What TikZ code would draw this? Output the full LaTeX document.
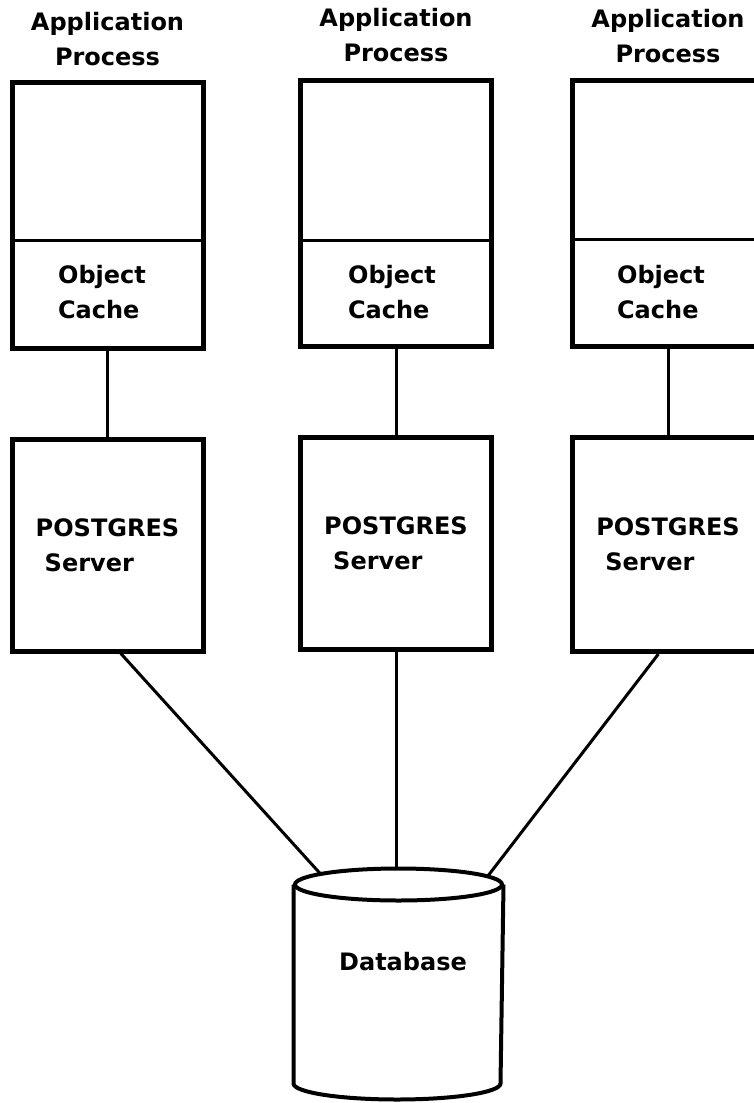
\documentclass[tikz,border=0pt]{standalone}
\usepackage{fontspec}
\setmainfont{DejaVu Sans}
\usetikzlibrary{positioning}
\tikzset{every picture/.style={line width=1.5pt}}

\begin{document}
\begin{tikzpicture}[x=0.5pt, y=-0.5pt, node distance=43pt,
    every node/.style={font=\bfseries\fontsize{12}{17.5}\selectfont},
    procbox/.style={draw, line width=2.5pt, minimum width=95.5pt, inner sep=0pt},
    boxtext/.style={align=left, inner sep=0pt},
    dbline/.style={line width=2pt}]
\clip (0,0) rectangle (754,1103);
    % Application processes
\node[procbox, minimum height=133pt] (app1) at (107.5,215) {};
\node[procbox, minimum height=133pt] (app2) at (396,213) {};
\node[procbox, minimum height=133pt] (app3) at (668,213.5) {};
\node[align=center, inner sep=0pt, above=6pt of app1] (lbl1) {Application\\Process};
\node[align=center, inner sep=0pt, above=7pt of app2] (lbl2) {Application\\Process};
\node[align=center, inner sep=0pt, above=7pt of app3] (lbl3) {Application\\Process};

    % Object caches
\draw ([yshift=-12.5pt]app1.west) -- ([yshift=-12.5pt]app1.east);
\draw ([yshift=-13.5pt]app2.west) -- ([yshift=-13.5pt]app2.east);
\draw ([yshift=-13pt]app3.west) -- ([yshift=-13pt]app3.east);
\node[boxtext] (cache1) at (102,292.5) {Object\\Cache};
\node[boxtext] (cache2) at (392,292.5) {Object\\Cache};
\node[boxtext] (cache3) at (661,292.5) {Object\\Cache};

    % POSTGRES servers
\node[procbox, minimum height=106pt, below=of app1] (srv1) {};
\node[procbox, minimum height=106pt, below=of app2] (srv2) {};
\node[procbox, minimum height=107pt, below=of app3] (srv3) {};
\node[boxtext] (pg1) at (srv1) {POSTGRES\\\hspace*{4.5pt}Server};
\node[boxtext] (pg2) at (srv2) {POSTGRES\\\hspace*{4.5pt}Server};
\node[boxtext] (pg3) at (srv3) {POSTGRES\\\hspace*{4.5pt}Server};

    % Database
\node[minimum width=103.5pt, minimum height=114pt, inner sep=0pt] (db) at (398.5,984) {};
\draw[dbline] ([yshift=-8pt]db.north) ellipse [x radius=51.75pt, y radius=8pt];
\draw[dbline] ([yshift=-8pt]db.north west) -- ([yshift=8pt]db.south west)
    arc[start angle=180, end angle=360, x radius=51.75pt, y radius=8pt]
    -- ([yshift=-8pt]db.north east);
\node[inner sep=0pt] (dblbl) at (403,962) {Database};
\coordinate (dbL) at ([xshift=-39pt,yshift=-2.7pt]db.north);
\coordinate (dbR) at ([xshift=44.5pt,yshift=-4pt]db.north);

    % Connections
\draw (app1.south) -- (srv1.north);
\draw (app2.south) -- (srv2.north);
\draw (app3.south) -- (srv3.north);
\draw (srv1.-83) -- (dbL);
\draw (srv2.south) -- (srv2.south |- db.north);
\draw (srv3.-95) -- (dbR);
\end{tikzpicture}
\end{document}
